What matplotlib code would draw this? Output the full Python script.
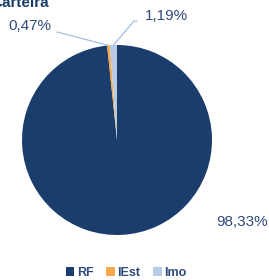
import numpy as np
import matplotlib
matplotlib.use("Agg")
import matplotlib.pyplot as plt

# dados da carteira
categorias = ["RF", "IEst", "Imo"]
valores = [98.33, 0.47, 1.19]
rotulos = ["98,33%", "0,47%", "1,19%"]
cores = ["#1B3D6B", "#F9A94B", "#B7CBE6"]

W, H = 269, 280
fig = plt.figure(figsize=(W / 100, H / 100), dpi=100)
ax = fig.add_axes([0, 0, 1, 1])

cx, cy, r = 117, H - 140, 95
wedges, _ = ax.pie(valores, colors=cores, startangle=90, counterclock=False,
                   center=(cx, cy), radius=r,
                   wedgeprops=dict(linewidth=0))
ax.set_xlim(0, W)
ax.set_ylim(0, H)
ax.set_aspect("equal")
ax.axis("off")

txt_cor = "#2F4B7C"
linha_cor = "#9CB7DD"
fonte = "Liberation Sans"

# posicao dos rotulos (pixels)
pos_rot = {"RF": (242, H - 222), "IEst": (30, H - 26), "Imo": (166, H - 16)}
cotovelo = {"IEst": [(57, H - 32)], "Imo": [(137, H - 21), (134, H - 21)]}

for w, cat, rot in zip(wedges, categorias, rotulos):
    x, y = pos_rot[cat]
    ax.text(x, y, rot, ha="center", va="center", fontsize=11,
            color=txt_cor, family=fonte)
    if cat in cotovelo:
        ang = np.deg2rad((w.theta1 + w.theta2) / 2)
        px, py = cx + r * np.cos(ang), cy + r * np.sin(ang)
        pts = cotovelo[cat] + [(px, py)]
        ax.plot([p[0] for p in pts], [p[1] for p in pts], color=linha_cor, lw=0.8)

# titulo cortado no topo
fig.text(-9 / W, (H + 4) / H, "Carteira", ha="left", va="top", fontsize=11,
         fontweight="bold", color="#1B3D6B", family=fonte)

# legenda
leg = ax.legend(wedges, categorias, loc="center", bbox_to_anchor=(126 / W, 7 / H),
                ncol=3, frameon=False, handlelength=0.7, handleheight=0.7,
                handletextpad=0.2, columnspacing=1.0,
                prop=dict(family=fonte, size=9, weight="bold"))
for t in leg.get_texts():
    t.set_color(txt_cor)

fig.savefig("out.png", dpi=100)
